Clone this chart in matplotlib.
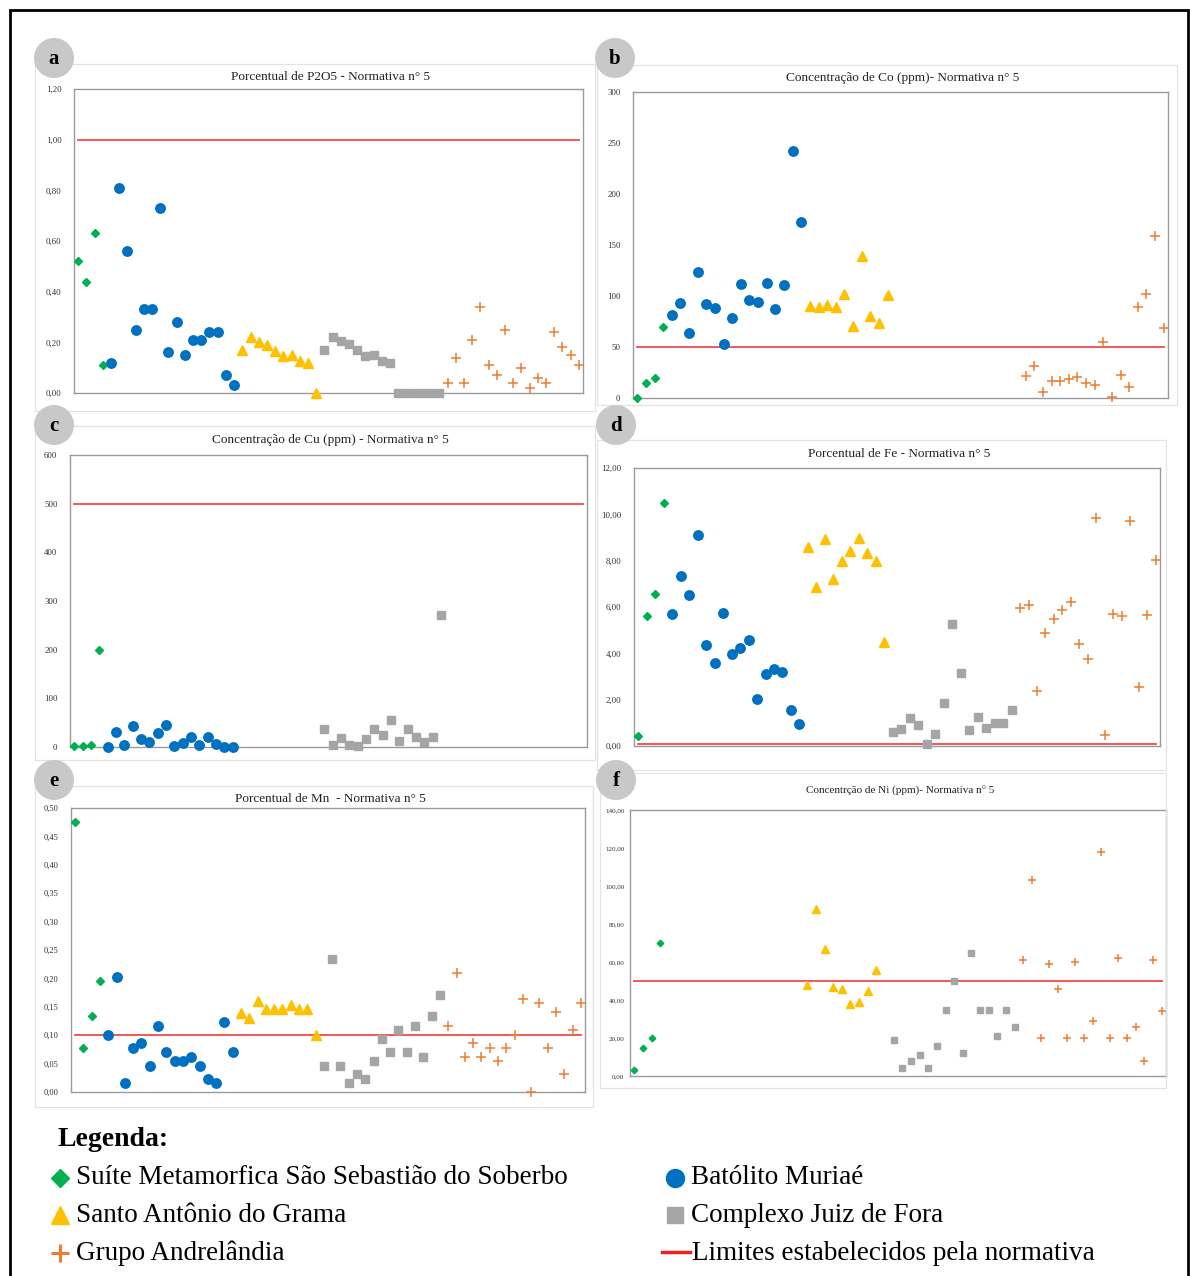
import numpy as np
import matplotlib
matplotlib.use("Agg")
import matplotlib.pyplot as plt
from matplotlib.patches import Rectangle, Ellipse
from matplotlib.lines import Line2D
from matplotlib.ticker import FuncFormatter

plt.rcParams['font.family'] = ['Liberation Serif', 'DejaVu Serif']

# group order on the x axis (category index where each group starts)
group_names = ['Suíte Metamorfica São Sebastião do Soberbo', 'Batólito Muriaé',
               'Santo Antônio do Grama', 'Complexo Juiz de Fora', 'Grupo Andrelândia']
group_start = [1, 5, 21, 31, 46]
n_cat = 62

# a - P2O5 (%)
p2o5_ssb = [0.52, 0.44, 0.63, 0.11]
p2o5_bm = [0.12, 0.81, 0.56, 0.25, 0.33, 0.33, 0.73, 0.16, 0.28, 0.15, 0.21, 0.21, 0.24, 0.24, 0.07, 0.03]
p2o5_sag = [0.17, 0.22, 0.20, 0.19, 0.165, 0.145, 0.15, 0.125, 0.12, 0.0]
p2o5_cjf = [0.17, 0.22, 0.205, 0.195, 0.17, 0.145, 0.15, 0.125, 0.12, 0, 0, 0, 0, 0, 0]
p2o5_ga = [0.04, 0.14, 0.04, 0.21, 0.34, 0.11, 0.07, 0.25, 0.04, 0.10, 0.02, 0.06, 0.04, 0.24, 0.18, 0.15, 0.11]

# b - Co (ppm)
co_ssb = [0, 15, 20, 70]
co_bm = [81, 93, 64, 124, 92, 88, 53, 78, 112, 96, 94, 113, 87, 111, 242, 173]
co_sag = [90, 89, 91, 89, 102, 71, 139, 80, 74, 101]
co_cjf = []
co_ga = [22, 31, 6, 17, 17, 19, 21, 15, 13, 55, 1, 23, 11, 89, 102, 159, 69]

# c - Cu (ppm)
cu_ssb = [3, 3, 5, 200]
cu_bm = [1, 31, 5, 44, 16, 10, 28, 46, 2, 8, 21, 4, 21, 6, 1, 1]
cu_sag = []
cu_cjf = [36, 4, 18, 5, 2, 16, 36, 25, 55, 13, 36, 20, 10, 21, 271]
cu_ga = []

# d - Fe (%)
fe_ssb = [0.42, 5.63, 6.55, 10.48]
fe_bm = [5.68, 7.34, 6.53, 9.11, 4.36, 3.59, 5.76, 3.99, 4.25, 4.58, 2.01, 3.09, 3.34, 3.2, 1.56, 0.93]
fe_sag = [8.6, 6.87, 8.93, 7.22, 7.97, 8.4, 9.0, 8.31, 7.98, 4.49]
fe_cjf = [0.6, 0.75, 1.23, 0.89, 0.07, 0.53, 1.84, 5.27, 3.16, 0.67, 1.26, 0.76, 0.99, 0.99, 1.54]
fe_ga = [5.96, 6.07, 2.38, 4.88, 5.48, 5.86, 6.22, 4.41, 3.77, 9.85, 0.46, 5.68, 5.63, 9.73, 2.55, 5.64, 8.01]

# e - Mn (%)
mn_ssb = [0.475, 0.078, 0.133, 0.195]
mn_bm = [0.10, 0.203, 0.015, 0.078, 0.086, 0.046, 0.117, 0.070, 0.054, 0.054, 0.062, 0.046, 0.023, 0.015, 0.124, 0.070]
mn_sag = [0.139, 0.131, 0.161, 0.147, 0.147, 0.147, 0.154, 0.147, 0.147, 0.100]
mn_cjf = [0.046, 0.234, 0.046, 0.015, 0.031, 0.023, 0.054, 0.093, 0.070, 0.109, 0.070, 0.117, 0.062, 0.133, 0.171]
mn_ga = [0.117, 0.210, 0.062, 0.086, 0.062, 0.078, 0.054, 0.078, 0.101, 0.164, 0.0, 0.156, 0.078, 0.140, 0.031, 0.109, 0.156]

# f - Ni (ppm)
ni_ssb = [3, 15, 20, 70]
ni_bm = []
ni_sag = [48, 88, 67, 47, 46, 38, 39, 45, 56, None]
ni_cjf = [19, 4, 8, 11, 4, 16, 35, 50, 12, 65, 35, 35, 21, 35, 26]
ni_ga = [61, 103, 20, 59, 46, 20, 60, 20, 29, 118, 20, 62, 20, 26, 8, 61, 34]

limits = [1.0, 50, 500, 0.1, 0.1, 50]

W, H = 1190, 1276
fig = plt.figure(figsize=(W / 100, H / 100), dpi=100)

def fx(x):
    return x / W

def fy(y):
    return 1 - y / H

# marker styles per group: (marker, color, size)
styles = [('D', '#00B050', 4.2), ('o', '#0070C0', 6.8), ('^', '#FFC000', 7),
          ('s', '#A5A5A5', 6.2), ('+', '#ED7D31', 7)]

panels = [
    dict(letter='a', title='Porcentual de P2O5 - Normativa n° 5', data=[p2o5_ssb, p2o5_bm, p2o5_sag, p2o5_cjf, p2o5_ga],
         ymax=1.2, step=0.2, dec=2, box=(74, 89, 583, 393), area=(35, 64, 595, 411), circ=(54, 58), ty=77, tfs=9.5, lfs=6.3, pad=9, ms=1.0),
    dict(letter='b', title='Concentração de Co (ppm)- Normativa n° 5', data=[co_ssb, co_bm, co_sag, co_cjf, co_ga],
         ymax=300, step=50, dec=0, box=(633, 92, 1168, 398), area=(597, 65, 1177, 405), circ=(615, 58), ty=78, tfs=9.5, lfs=6.3, pad=9, ms=1.0),
    dict(letter='c', title='Concentração de Cu (ppm) - Normativa n° 5', data=[cu_ssb, cu_bm, cu_sag, cu_cjf, cu_ga],
         ymax=600, step=100, dec=0, box=(70, 455, 587, 747), area=(35, 426, 595, 760), circ=(54, 425), ty=440, tfs=9.5, lfs=6.3, pad=9, ms=1.0),
    dict(letter='d', title='Porcentual de Fe - Normativa n° 5', data=[fe_ssb, fe_bm, fe_sag, fe_cjf, fe_ga],
         ymax=12, step=2, dec=2, box=(634, 468, 1160, 746), area=(597, 440, 1166, 770), circ=(616, 425), ty=454, tfs=9.5, lfs=6.3, pad=9, ms=1.0),
    dict(letter='e', title='Porcentual de Mn  - Normativa n° 5', data=[mn_ssb, mn_bm, mn_sag, mn_cjf, mn_ga],
         ymax=0.5, step=0.05, dec=2, box=(71, 808, 585, 1092), area=(35, 786, 593, 1107), circ=(54, 780), ty=799, tfs=9.5, lfs=6.0, pad=9, ms=1.0),
    dict(letter='f', title='Concentrção de Ni (ppm)- Normativa n° 5', data=[ni_ssb, ni_bm, ni_sag, ni_cjf, ni_ga],
         ymax=140, step=20, dec=2, box=(630, 810, 1166, 1076), area=(600, 773, 1166, 1088), circ=(616, 780), ty=791, tfs=8.0, lfs=5.0, pad=4, ms=0.8),
]

for i, p in enumerate(panels):
    # light chart-area frame
    x0, y0, x1, y1 = p['area']
    fig.add_artist(Rectangle((fx(x0), fy(y1)), fx(x1 - x0), (y1 - y0) / H, transform=fig.transFigure,
                             fill=False, edgecolor='#e3e3e3', lw=0.9))

    l, t, r, b = p['box']
    ax = fig.add_axes([fx(l), fy(b), fx(r - l), (b - t) / H])
    for g, vals in enumerate(p['data']):
        if len(vals) == 0:
            continue
        y = np.array([np.nan if v is None else v for v in vals], dtype=float)
        x = group_start[g] + np.arange(len(y))
        m, c, s = styles[g]
        if m == '+':
            ax.plot(x, y, ls='none', marker=m, color=c, ms=s * p['ms'], mew=1.1, clip_on=False, zorder=3)
        else:
            ax.plot(x, y, ls='none', marker=m, color=c, mec=c, ms=s * p['ms'], clip_on=False, zorder=3)
    cats = np.arange(1, n_cat + 1)
    ax.plot(cats, [limits[i]] * n_cat, color='#f4484a', lw=1.3, zorder=2)

    ax.set_xlim(0.5, n_cat + 0.5)
    ax.set_ylim(0, p['ymax'])
    ax.set_xticks([])
    ax.set_yticks(np.arange(0, p['ymax'] + p['step'] / 2, p['step']))
    dec = p['dec']
    ax.yaxis.set_major_formatter(FuncFormatter(lambda v, pos, d=dec: f'{v:.{d}f}'.replace('.', ',')))
    ax.tick_params(axis='y', length=0, pad=p['pad'], labelsize=p['lfs'], labelcolor='#303030')
    for sp in ax.spines.values():
        sp.set_color('#9a9a9a')
        sp.set_linewidth(1.0)

    fig.text(fx((l + r) / 2 + 2), fy(p['ty']), p['title'], ha='center', va='center', fontsize=p['tfs'], color='#222222')

    cx, cy = p['circ']
    fig.add_artist(Ellipse((fx(cx), fy(cy)), 40 / W, 40 / H, transform=fig.transFigure,
                           facecolor='#c8c8c8', edgecolor='none', zorder=5))
    fig.text(fx(cx), fy(cy + 1), p['letter'], ha='center', va='center', fontsize=15, fontweight='bold', zorder=6)

# outer black border
fig.add_artist(Rectangle((fx(10), fy(1290)), fx(1178), 1280 / H, transform=fig.transFigure,
                         fill=False, edgecolor='black', lw=2.0, clip_on=False))

# legend
fig.text(fx(57), fy(1139), 'Legenda:', fontsize=20, fontweight='bold', ha='left', va='center')
leg_pos = [(60, 1178), (675, 1178), (60, 1215), (675, 1215), (60, 1253)]
leg_ms = [9, 13, 13, 12, 13]
for g, (lx, ly) in enumerate(leg_pos):
    m, c, s = styles[g]
    fig.add_artist(Line2D([fx(lx)], [fy(ly)], transform=fig.transFigure, ls='none', marker=m,
                          color=c, mec=c, ms=leg_ms[g], mew=2.2 if m == '+' else 1))
    fig.text(fx(lx + 16), fy(ly), group_names[g], fontsize=19.5, ha='left', va='center')
fig.add_artist(Line2D([fx(662), fx(690)], [fy(1252), fy(1252)], transform=fig.transFigure, color='#ee2020', lw=2.5))
fig.text(fx(692), fy(1253), 'Limites estabelecidos pela normativa', fontsize=19.5, ha='left', va='center')

fig.savefig('out.png', dpi=100)
